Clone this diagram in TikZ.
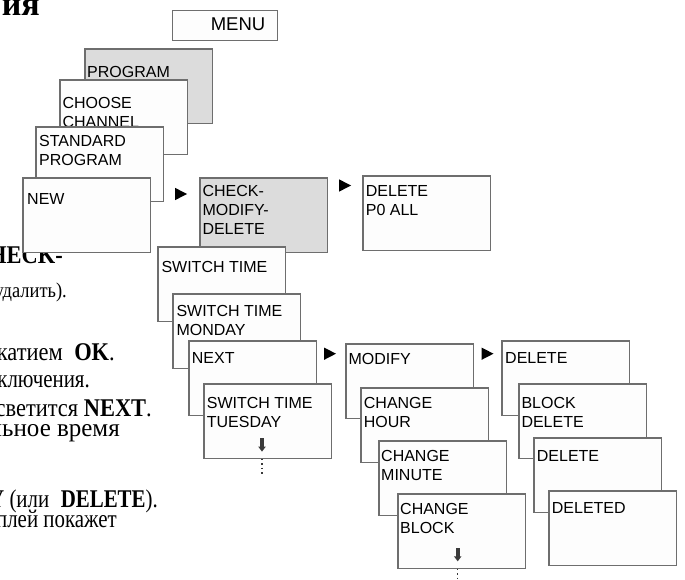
\documentclass[tikz,border=0pt]{standalone}
\usepackage{fontspec}
\setmainfont{Liberation Sans}
\newfontfamily\rus[FakeStretch=0.88]{Liberation Serif}
\newfontfamily\rusn[FakeStretch=0.82]{Liberation Serif}
\newfontfamily\rusw[FakeStretch=0.98]{Liberation Serif}
\newfontfamily\rush{Liberation Serif}
\definecolor{edge}{HTML}{6E6E6E}
\definecolor{panel}{HTML}{DCDCDC}
\definecolor{paper}{HTML}{FDFDFD}
\definecolor{ink}{HTML}{3A3A3A}
\tikzset{
  card/.style={draw=edge, line width=1.1pt, fill=paper, minimum width=127.5pt,
    minimum height=74.5pt, inner sep=0pt, outer sep=0pt, anchor=north west},
  graycard/.style={card, fill=panel},
  lbl/.style={font=\fontsize{16}{19}\selectfont, align=left, inner sep=0pt, anchor=north west},
  rtxt/.style={font=\rus\fontsize{25.5}{26}\selectfont, inner sep=0pt, anchor=base east},
  marker/.style={fill=black},
  downarr/.style={fill=ink},
  trail/.style={draw=ink, line width=1.3pt, dash pattern=on 1.4pt off 3.2pt}
}
\newcommand\tri[3]{\coordinate (#1) at (#2,#3);
  \fill[marker] ([shift={(-6,-6.2)}]#1) -- ([shift={(6,0)}]#1) -- ([shift={(-6,6.2)}]#1) -- cycle;}
\newcommand\darr[3]{\coordinate (#1) at (#2,#3);
  \fill[downarr] ([shift={(-2.2,0)}]#1) rectangle ([shift={(2.2,8.5)}]#1);
  \fill[downarr] ([shift={(-3.8,8.3)}]#1) -- ([shift={(3.8,8.3)}]#1) -- ([shift={(0,13.3)}]#1) -- cycle;}
\begin{document}
\begin{tikzpicture}[x=1pt,y=-1pt]
\path[use as bounding box] (0,0) rectangle (685,580);
\clip (0,0) rectangle (685,580);
\fill[white] (0,0) rectangle (685,580);

% left page text (cut off)
\node[font=\rush\bfseries\fontsize{34}{36}\selectfont, inner sep=0pt, anchor=base east] (r0) at (40,16) {ия};
\node[rtxt, font=\rus\bfseries\fontsize{25.5}{26}\selectfont] (r1) at (63,263) {HECK-};
\node[rtxt, font=\rus\fontsize{21}{22}\selectfont] (r2) at (67,297) {удалить).};
\node[rtxt] (r3) at (115,360) {катием\hspace{0.45em}\textbf{OK}.};
\node[rtxt, font=\rusn\fontsize{25.5}{26}\selectfont] (r4) at (90,387) {ключения.};
\node[rtxt] (r5) at (152,416) {светится \textbf{NEXT}.};
\node[rtxt, font=\rusw\fontsize{25.5}{26}\selectfont] (r6) at (120,436) {льное время};
\node[rtxt, font=\rusn\fontsize{25.5}{26}\selectfont] (r7) at (158,507) {\textbf{Y} (или\hspace{0.45em}\textbf{DELETE}).};
\node[rtxt, font=\rusn\fontsize{25.5}{26}\selectfont] (r8) at (117,527) {плей покажет};

% MENU
\node[draw=edge, line width=1.1pt, fill=paper, minimum width=105pt, minimum height=30pt,
  inner sep=0pt, anchor=north west] (menu) at (172,10) {};
\node[font=\fontsize{18.5}{22}\selectfont, inner sep=0pt, anchor=north east] (menu-t) at (265.5,18) {MENU};

% first stack
\node[graycard] (prog) at (85,49) {};
\node[lbl] (prog-t) at (87,66) {PROGRAM};
\node[card] (chan) at (60,80) {};
\node[lbl] (chan-t) at (62.3,97.3) {CHOOSE\\CHANNEL};
\node[card] (std) at (36,127) {};
\node[lbl] (std-t) at (39,135) {STANDARD\\PROGRAM};
\node[card] (new) at (23,178) {};
\node[lbl] (new-t) at (27,193) {NEW};

\tri{m1}{181}{194}

% check-modify-delete
\node[graycard] (cmd) at (200,178) {};
\node[lbl] (cmd-t) at (202.3,185) {CHECK-\\MODIFY-\\DELETE};

\tri{m2}{345}{185.5}
\node[card] (p0) at (363,176) {};
\node[lbl] (p0-t) at (365.7,185) {DELETE\\P0 ALL};

% switch time stack
\node[card] (sw) at (158,247) {};
\node[lbl] (sw-t) at (161.3,260.7) {SWITCH TIME};
\node[card] (mon) at (173,294) {};
\node[lbl] (mon-t) at (176.3,305) {SWITCH TIME\\MONDAY};
\node[card] (next) at (189,341) {};
\node[lbl] (next-t) at (191.7,352.7) {NEXT};
\node[card] (tue) at (204,384) {};
\node[lbl] (tue-t) at (206.7,396.7) {SWITCH TIME\\TUESDAY};
\darr{tue-a}{262}{438.3}
\coordinate (tue-end) at (262,474);
\draw[trail] (tue-end |- tue.south) -- (tue-end);

\tri{m3}{330}{353.7}

% modify stack
\node[card] (mod) at (346,344) {};
\node[lbl] (mod-t) at (348.3,353) {MODIFY};
\node[card] (hour) at (361,388) {};
\node[lbl] (hour-t) at (363.7,396.7) {CHANGE\\HOUR};
\node[card] (minu) at (379,441) {};
\node[lbl] (minu-t) at (381,450) {CHANGE\\MINUTE};
\node[card] (blk) at (398,494) {};
\node[lbl] (blk-t) at (400,502.7) {CHANGE\\BLOCK};
\darr{blk-a}{457.7}{548}
\coordinate (blk-end) at (457.7,582);
\draw[trail] (blk-end |- blk.south) -- (blk-end);

\tri{m4}{487.5}{353.7}

% delete stack
\node[card] (del1) at (502,341) {};
\node[lbl] (del1-t) at (505,352.7) {DELETE};
\node[card] (bdel) at (519,384) {};
\node[lbl] (bdel-t) at (521.3,396.7) {BLOCK\\DELETE};
\node[card] (del2) at (534,438) {};
\node[lbl] (del2-t) at (536.7,450) {DELETE};
\node[card] (deld) at (549,491) {};
\node[lbl] (deld-t) at (551.7,502.7) {DELETED};
\end{tikzpicture}
\end{document}
